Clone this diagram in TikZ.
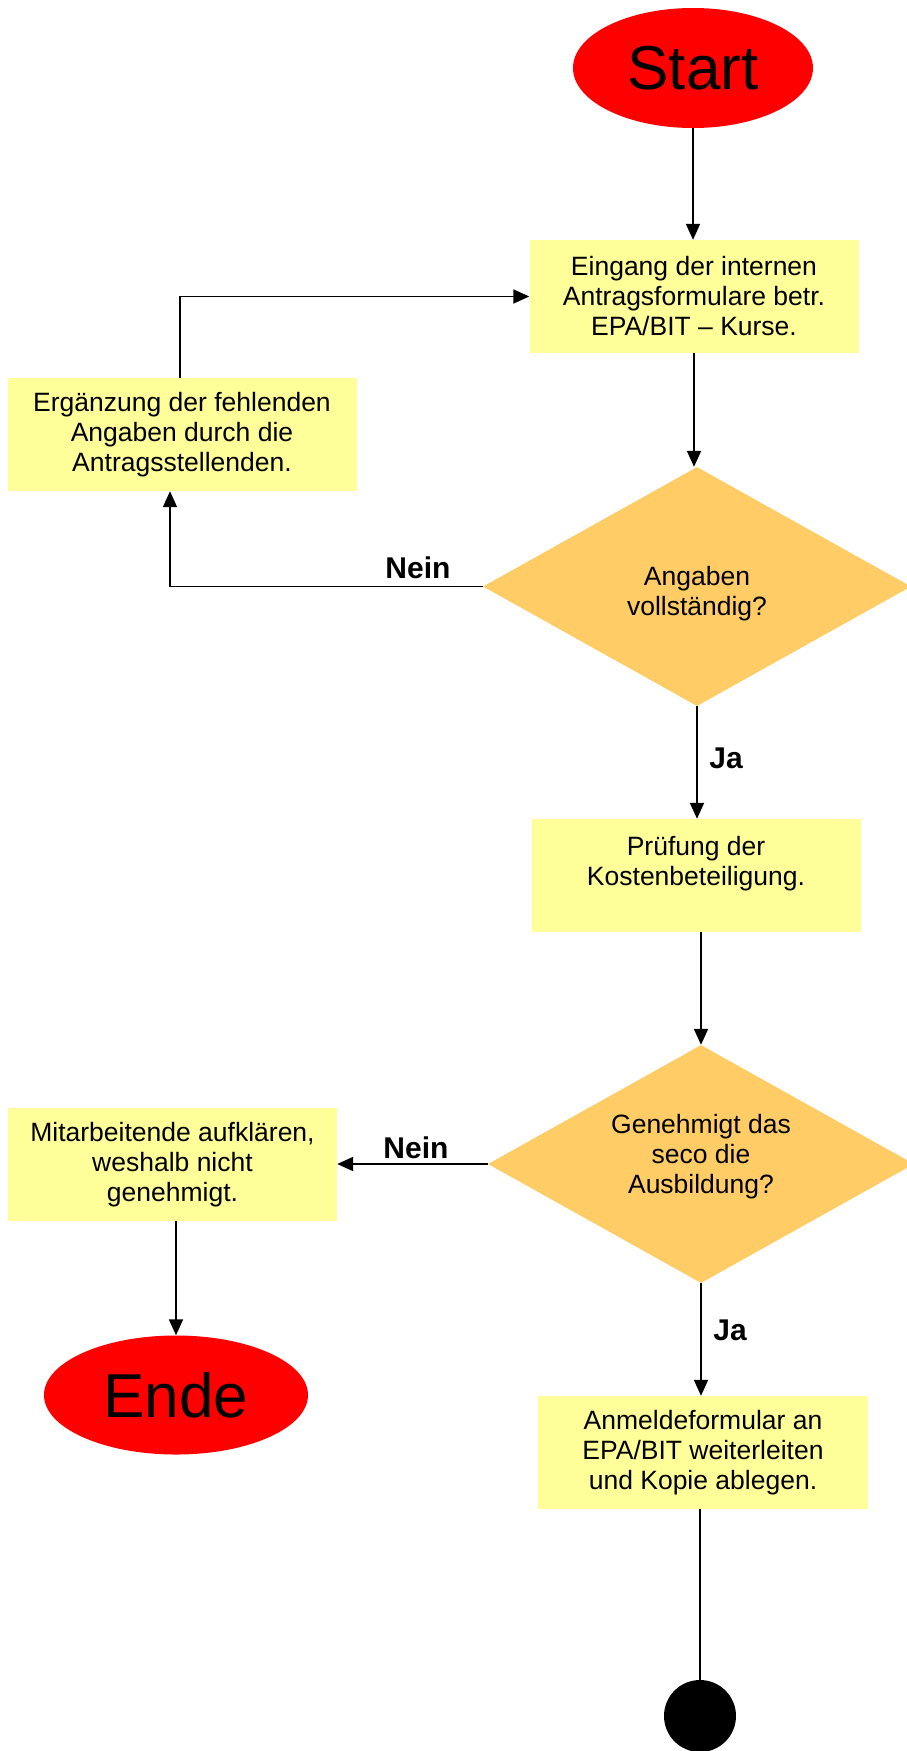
\documentclass[tikz,border=0pt]{standalone}
\usepackage{fontspec}
\setmainfont{Liberation Sans}
\usetikzlibrary{shapes.geometric,arrows.meta}
\definecolor{boxyellow}{HTML}{FFFF99}
\definecolor{diaorange}{HTML}{FFCC66}
\definecolor{termred}{HTML}{FF0000}
\tikzset{
  stepbox/.style={rectangle, fill=boxyellow, inner sep=0pt, align=center,
    font=\fontsize{26.5}{30}\selectfont},
  decision/.style={diamond, fill=diaorange, inner sep=0pt, align=center,
    font=\fontsize{26.5}{30}\selectfont},
  terminal/.style={ellipse, fill=termred, inner sep=0pt,
    font=\fontsize{62}{70}\selectfont},
  arr/.style={-{Triangle[length=16pt,width=14pt]}, line width=1.8pt},
  plain/.style={line width=1.8pt},
  lbl/.style={font=\bfseries\fontsize{30}{34}\selectfont, inner sep=0pt},
}
\begin{document}
\begin{tikzpicture}[x=1pt,y=-1pt]
\useasboundingbox (0,0) rectangle (907,1751);
\node[terminal, minimum width=240pt, minimum height=120pt] (start) at (693,68) {Start};
\node[stepbox, minimum width=329pt, minimum height=113pt] (b1) at (694,296.5) {Eingang der internen\\Antragsformulare betr.\\EPA/BIT – Kurse.};
\node[stepbox, minimum width=349pt, minimum height=113pt] (b2) at (182,434.5) {Ergänzung der fehlenden\\Angaben durch die\\Antragsstellenden.};
\node[decision, minimum width=428pt, minimum height=239pt] (d1) at (697,586.5) {};
\node[font=\fontsize{26.5}{30}\selectfont, align=center, inner sep=0pt] (t1) at (697,594) {Angaben\\vollständig?};
\node[stepbox, minimum width=329pt, minimum height=113pt] (b3) at (696,875.5) {Prüfung der\\Kostenbeteiligung.\\\mbox{}};
\node[decision, minimum width=426pt, minimum height=238pt] (d2) at (701,1164) {};
\node[font=\fontsize{26.5}{30}\selectfont, align=center, inner sep=0pt] (t2) at (701,1157) {Genehmigt das\\seco die\\Ausbildung?};
\node[stepbox, minimum width=329pt, minimum height=113pt] (b4) at (172.5,1164.5) {Mitarbeitende aufklären,\\weshalb nicht\\genehmigt.};
\node[terminal, minimum width=264pt, minimum height=119pt] (ende) at (176,1395) {Ende};
\node[stepbox, minimum width=330pt, minimum height=113pt] (b5) at (703,1452.5) {Anmeldeformular an\\EPA/BIT weiterleiten\\und Kopie ablegen.};
\node[circle, fill=black, minimum size=72pt, inner sep=0pt] (stop) at (700,1716) {};

\draw[arr] (start.south) -- (b1.north -| start.south);
\draw[arr] (b1.south) -- (d1.north -| b1.south);
\draw[arr] (d1.west) -| ([xshift=-12pt]b2.south);
\draw[arr] ([xshift=-2pt]b2.north) |- (b1.west);
\draw[arr] (d1.south) -- (b3.north -| d1.south);
\draw[arr] (b3.south -| d2.north) -- (d2.north);
\draw[arr] (d2.west) -- (b4.east |- d2.west);
\draw[arr] (b4.south -| ende.north) -- (ende.north);
\draw[arr] (d2.south) -- (b5.north -| d2.south);
\draw[plain] (b5.south -| stop.north) -- (stop.north);

\node[lbl] (n1) at (418,568) {Nein};
\node[lbl] (j1) at (726,758) {Ja};
\node[lbl] (n2) at (416,1148) {Nein};
\node[lbl] (j2) at (730,1330) {Ja};
\end{tikzpicture}
\end{document}
